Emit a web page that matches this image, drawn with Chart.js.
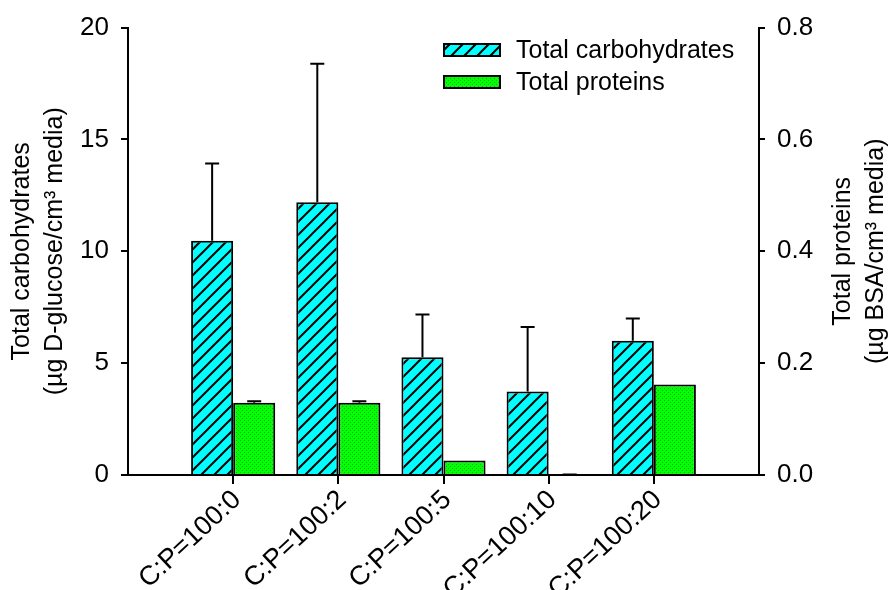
<!DOCTYPE html>
<html>
<head>
<meta charset="utf-8">
<script src="https://cdn.jsdelivr.net/npm/chart.js@4.4.0/dist/chart.umd.min.js"></script>
<style>
html,body{margin:0;padding:0;background:#fff}
#wrap{width:890px;height:590px}
</style>
</head>
<body>
<div id="wrap"><canvas id="c" width="890" height="590"></canvas></div>
<script>
const categories=["C:P=100:0","C:P=100:2","C:P=100:5","C:P=100:10","C:P=100:20"]
const positions=[1,2,3,4,5]
const carbs=[10.47,12.19,5.26,3.73,6.0]
const carbsErr=[3.46,6.19,1.92,2.89,1.0]
const proteins=[0.129,0.129,0.026,0.0,0.162]
const proteinsErr=[0.003,0.003,0,0.001,0]
const leftTicks=[0,5,10,15,20]
const rightTicks=[0,0.2,0.4,0.6,0.8]

const FONT="'Liberation Sans', Arial, sans-serif"

function hatch(){
const p=document.createElement("canvas")
p.width=13;p.height=13
const g=p.getContext("2d")
g.fillStyle="#00ffff"
g.fillRect(0,0,13,13)
g.strokeStyle="#000"
g.lineWidth=2
g.beginPath()
g.moveTo(-2,15);g.lineTo(15,-2)
g.moveTo(-2,2);g.lineTo(2,-2)
g.moveTo(11,15);g.lineTo(15,11)
g.stroke()
return g.createPattern(p,"repeat")
}

function dots(){
const p=document.createElement("canvas")
p.width=4;p.height=4
const g=p.getContext("2d")
g.fillStyle="#00ff00"
g.fillRect(0,0,4,4)
g.fillStyle="#2a9a2a"
g.fillRect(0,0,1,1)
g.fillRect(2,2,1,1)
return g.createPattern(p,"repeat")
}

const errorBars={
id:"errorBars",
afterDatasetsDraw(chart){
const ctx=chart.ctx
const errs=[carbsErr,proteinsErr]
ctx.save()
ctx.strokeStyle="#000"
ctx.lineWidth=2
chart.data.datasets.forEach((ds,i)=>{
const meta=chart.getDatasetMeta(i)
const scale=chart.scales[ds.yAxisID]
meta.data.forEach((bar,j)=>{
const e=errs[i][j]
if(!e)return
const v=ds.data[j].y
const y0=scale.getPixelForValue(v)
const y1=scale.getPixelForValue(v+e)
ctx.beginPath()
ctx.moveTo(bar.x,y0)
ctx.lineTo(bar.x,y1)
ctx.moveTo(bar.x-7,y1)
ctx.lineTo(bar.x+7,y1)
ctx.stroke()
})
})
ctx.restore()
}
}

const extras={
id:"extras",
afterDraw(chart){
const ctx=chart.ctx
const area=chart.chartArea
ctx.save()
// legend
const rows=[{y:50,ds:chart.data.datasets[0]},{y:82,ds:chart.data.datasets[1]}]
ctx.font="25px "+FONT
ctx.textBaseline="middle"
rows.forEach(r=>{
ctx.fillStyle=r.ds.backgroundColor
ctx.fillRect(444,r.y-6,56,12)
ctx.strokeStyle="#000"
ctx.lineWidth=2
ctx.strokeRect(444,r.y-6,56,12)
ctx.fillStyle="#000"
ctx.fillText(r.ds.label,516,r.y+1)
})
// right axis title, reading bottom to top
const cy=(area.top+area.bottom)/2
ctx.translate(843,cy)
ctx.rotate(-Math.PI/2)
ctx.textAlign="center"
ctx.fillText("Total proteins",0,0)
ctx.fillText("(µg BSA/cm³ media)",0,33)
ctx.restore()
}
}

new Chart(document.getElementById("c"),{
type:"bar",
data:{
datasets:[
{
label:"Total carbohydrates",
data:positions.map((x,i)=>({x:x,y:carbs[i]})),
backgroundColor:hatch(),
borderColor:"#000",
borderWidth:2,
yAxisID:"y",
categoryPercentage:0.8,
barPercentage:1
},
{
label:"Total proteins",
data:positions.map((x,i)=>({x:x,y:proteins[i]})),
backgroundColor:dots(),
borderColor:"#000",
borderWidth:2,
yAxisID:"y2",
categoryPercentage:0.8,
barPercentage:1
}
]
},
options:{
responsive:false,
animation:false,
layout:{padding:{top:21,left:0,right:0,bottom:0}},
plugins:{legend:{display:false},tooltip:{enabled:false}},
scales:{
x:{
type:"linear",
min:0,max:6,
offset:false,
afterBuildTicks:s=>{s.ticks=positions.map(v=>({value:v}))},
afterFit:s=>{s.height=115},
ticks:{
autoSkip:false,
maxRotation:43,minRotation:43,
color:"#000",
font:{family:FONT,size:27},
padding:0,
labelOffset:4,
callback:v=>categories[v-1]
},
grid:{display:true,offset:false,drawOnChartArea:false,drawTicks:true,tickLength:9,color:"#000",lineWidth:2},
border:{display:true,color:"#000",width:2}
},
y:{
position:"left",
min:0,max:20,
afterBuildTicks:s=>{s.ticks=leftTicks.map(v=>({value:v}))},
afterFit:s=>{s.width=128},
ticks:{color:"#000",font:{family:FONT,size:26},padding:12},
grid:{display:true,drawOnChartArea:false,drawTicks:true,tickLength:7,color:"#000",lineWidth:2},
border:{display:true,color:"#000",width:2},
title:{
display:true,
text:["Total carbohydrates","(µg D-glucose/cm³ media)"],
color:"#000",
font:{family:FONT,size:25,lineHeight:1.32},
padding:{top:6,bottom:0}
}
},
y2:{
position:"right",
min:0,max:0.8,
afterBuildTicks:s=>{s.ticks=rightTicks.map(v=>({value:v}))},
afterFit:s=>{s.width=131},
ticks:{color:"#000",font:{family:FONT,size:26},padding:12,callback:v=>v.toFixed(1)},
grid:{display:true,drawOnChartArea:false,drawTicks:true,tickLength:6,color:"#000",lineWidth:2},
border:{display:true,color:"#000",width:2}
}
}
},
plugins:[errorBars,extras]
})
</script>
</body>
</html>
